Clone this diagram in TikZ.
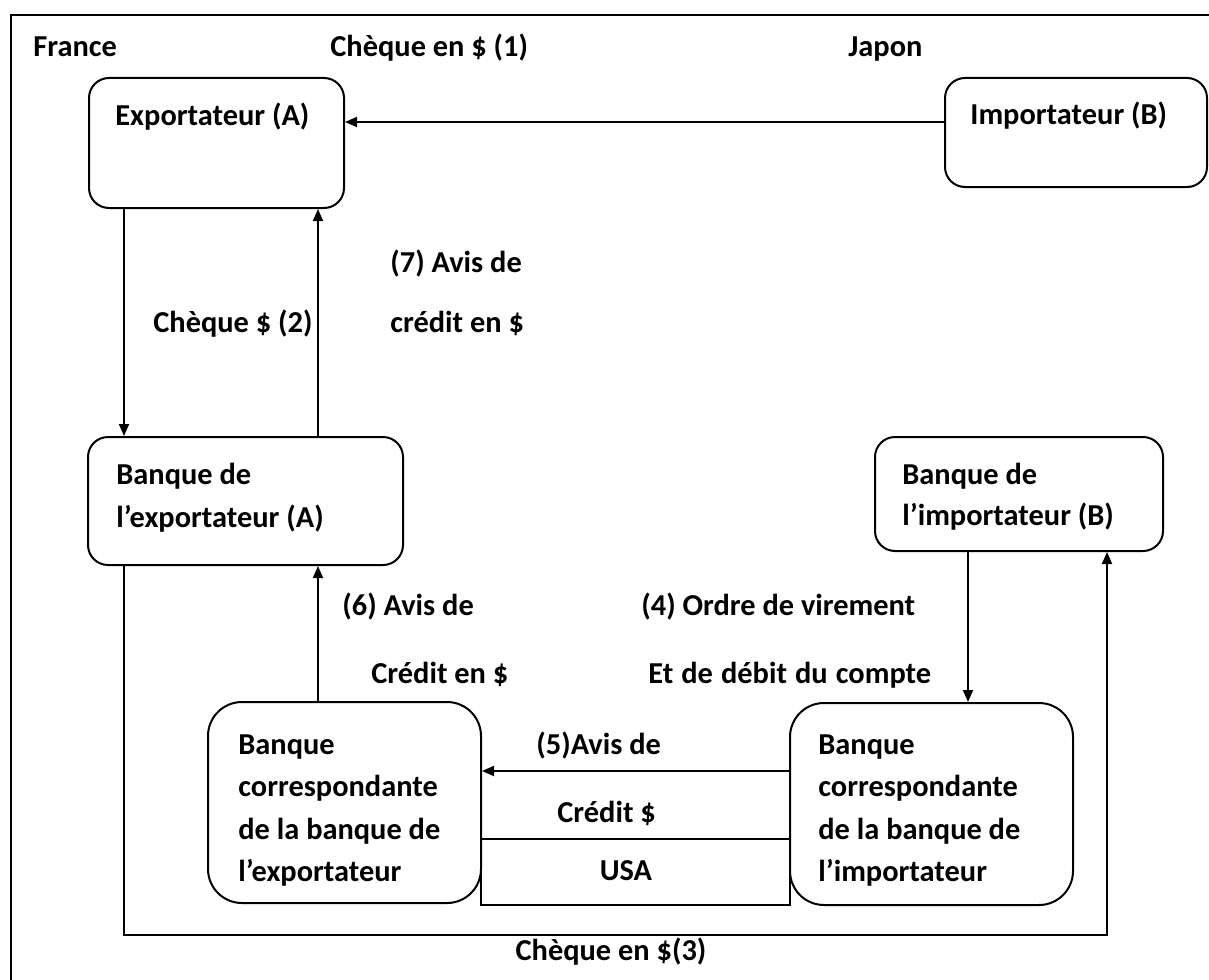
\documentclass[tikz,border=0pt]{standalone}
\usepackage{fontspec}
\setmainfont{Carlito}
\usetikzlibrary{arrows.meta}
\begin{document}
\begin{tikzpicture}[x=0.5pt,y=-0.5pt,
  font=\fontsize{15.2}{18}\selectfont\bfseries,
  box/.style={draw,line width=1pt,rounded corners=10pt,inner sep=0pt},
  bigbox/.style={draw,line width=1pt,rounded corners=17pt,inner sep=0pt},
  usabox/.style={draw,line width=1pt,inner sep=0pt},
  txt/.style={anchor=base west,inner sep=0pt},
  ctxt/.style={anchor=base,inner sep=0pt},
  arr/.style={line width=0.9pt,-{Triangle[length=6pt,width=5pt]}}]
\useasboundingbox (0,0) rectangle (1209,979);
\draw[line width=1pt] (11,15) rectangle (1230,1000);

% boxes
\node[box,minimum width=127.5pt,minimum height=65pt] (exp) at (216.5,143) {};
\node[box,minimum width=131pt,minimum height=54.5pt] (imp) at (1076,132.5) {};
\node[box,minimum width=157.5pt,minimum height=64pt] (bqA) at (245.5,501) {};
\node[box,minimum width=144pt,minimum height=57pt] (bqB) at (1019,494) {};
\node[bigbox,minimum width=136.5pt,minimum height=100.5pt] (corA) at (344.5,802.5) {};
\node[bigbox,minimum width=141.5pt,minimum height=101pt] (corB) at (931.5,804) {};
\node[usabox,minimum width=154.5pt,minimum height=33pt] (usa) at (635.5,872) {};

% coordinates
\coordinate (y1) at (0,122);
\coordinate (x124) at (124,0);
\coordinate (x318) at (318,0);
\coordinate (x968) at (968,0);
\coordinate (x1107) at (1107,0);
\coordinate (y5) at (0,771);
\coordinate (bot) at (0,935);

% texts
\node[txt] (tFr) at (33,57) {France};
\node[txt] (tC1) at (330,57) {Chèque en \$ (1)};
\node[txt] (tJp) at (848,57) {Japon};
\node[txt] (tExp) at (115,126) {Exportateur (A)};
\node[txt] (tImp) at (970,125) {Importateur (B)};
\node[txt] (tC2) at (153,332) {Chèque \$ (2)};
\node[txt] (t7a) at (390,272) {(7) Avis de};
\node[txt] (t7b) at (390,332) {crédit en \$};
\node[txt] (tBA1) at (116,484) {Banque de};
\node[txt] (tBA2) at (116,527) {l’exportateur (A)};
\node[txt] (tBB1) at (902,484) {Banque de};
\node[txt] (tBB2) at (902,525) {l’importateur (B)};
\node[txt] (t6a) at (342,615) {(6) Avis de};
\node[txt] (t6b) at (371,683) {Crédit en \$};
\node[txt] (t4a) at (641,615) {(4) Ordre de virement};
\node[txt] (t4b) at (648,683) {Et\hspace{0.6pt} de\hspace{0.6pt} débit\hspace{0.6pt} du\hspace{0.6pt} compte};
\node[txt] (tCA1) at (238,754) {Banque};
\node[txt] (tCA2) at (238,796.5) {correspondante};
\node[txt] (tCA3) at (238,839) {de la banque de};
\node[txt] (tCA4) at (238,881.5) {l’exportateur};
\node[txt] (tCB1) at (818,754) {Banque};
\node[txt] (tCB2) at (818,796.5) {correspondante};
\node[txt] (tCB3) at (818,839) {de la banque de};
\node[txt] (tCB4) at (818,881.5) {l’importateur};
\node[txt] (t5a) at (536,754) {(5)Avis de};
\node[txt] (t5b) at (557,822) {Crédit \$};
\node[ctxt] (tUSA) at (626,880) {USA};
\node[ctxt] (tC3) at (611,960) {Chèque en \$(3)};

% connectors
\draw[arr] (imp.west |- y1) -- (exp.east |- y1);
\draw[arr] (exp.south -| x124) -- (bqA.north -| x124);
\draw[arr] (bqA.north -| x318) -- (exp.south -| x318);
\draw[arr] (corA.north -| x318) -- (bqA.south -| x318);
\draw[arr] (bqB.south -| x968) -- (corB.north -| x968);
\draw[arr] (corB.west |- y5) -- (corA.east |- y5);
\draw[arr] (bqA.south -| x124) -- (x124 |- bot) -- (x1107 |- bot) -- (bqB.south -| x1107);
\end{tikzpicture}
\end{document}
